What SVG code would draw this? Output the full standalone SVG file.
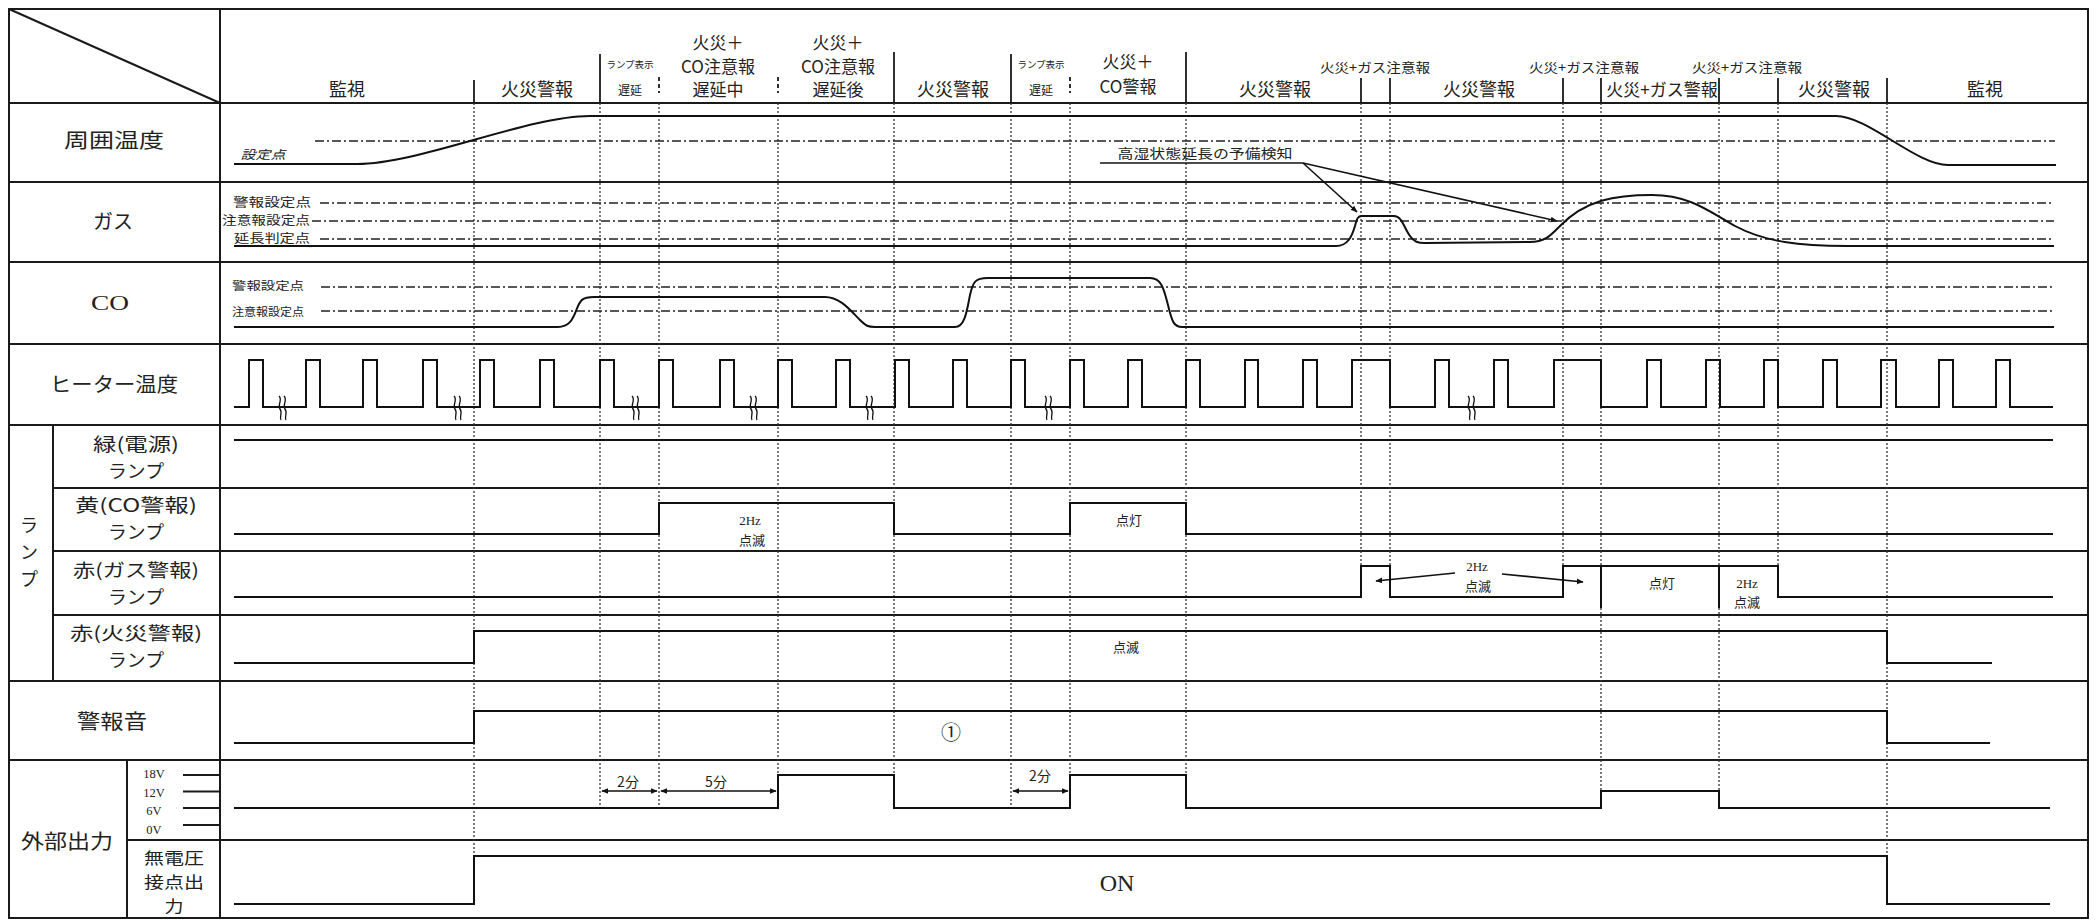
<svg xmlns="http://www.w3.org/2000/svg" width="2098" height="920" viewBox="0 0 2098 920">
<style>
.row{stroke:#1a1a1a;stroke-width:2;fill:none}
.sig{stroke:#111;stroke-width:2;fill:none;stroke-linejoin:miter}
.dd{stroke:#222;stroke-width:1.6;stroke-dasharray:9 3 2 3;fill:none}
.dot{stroke:#333;stroke-width:1.3;stroke-dasharray:2 2;fill:none}
.tk{stroke:#1a1a1a;stroke-width:1.8}
.tkd{stroke:#1a1a1a;stroke-width:1.8;stroke-dasharray:4 3}
.ar{stroke:#111;stroke-width:1.6;fill:none}
.t{font-family:"Noto Sans CJK JP","Noto Sans",sans-serif;fill:#222;text-anchor:middle}
.s{font-family:"Liberation Serif",serif;fill:#222;text-anchor:middle}
.h{font-size:18px}
.l{font-size:20px}
.lp{font-size:18px}
.sm{font-size:12px}
.xs{font-size:13px}
</style>
<defs>
<marker id="ah" viewBox="0 0 10 10" refX="9" refY="5" markerWidth="7" markerHeight="7" orient="auto-start-reverse" markerUnits="userSpaceOnUse">
<path d="M0,1 L10,5 L0,9 z" fill="#111"/>
</marker>
<path id="brk" d="M-4,-11 c4,4 -2,9 1,13 c3,4 -1,8 1,11 M1,-11 c4,4 -2,9 1,13 c3,4 -1,8 1,11" fill="none" stroke="#111" stroke-width="1.3"/>
</defs>
<rect width="2098" height="920" fill="#fff"/>

<g id="grid">
<rect x="9" y="9" width="2079" height="909" class="row"/>
<line x1="9" y1="9" x2="220" y2="103" class="row"/>
<line x1="220" y1="9" x2="220" y2="918" class="row"/>
<line x1="53" y1="425" x2="53" y2="681" class="row"/>
<line x1="127" y1="760" x2="127" y2="918" class="row"/>
<line x1="9" y1="103" x2="2088" y2="103" class="row"/>
<line x1="9" y1="182" x2="2088" y2="182" class="row"/>
<line x1="9" y1="262" x2="2088" y2="262" class="row"/>
<line x1="9" y1="344" x2="2088" y2="344" class="row"/>
<line x1="9" y1="425" x2="2088" y2="425" class="row"/>
<line x1="53" y1="488" x2="2088" y2="488" class="row"/>
<line x1="53" y1="551" x2="2088" y2="551" class="row"/>
<line x1="53" y1="615" x2="2088" y2="615" class="row"/>
<line x1="9" y1="681" x2="2088" y2="681" class="row"/>
<line x1="9" y1="760" x2="2088" y2="760" class="row"/>
<line x1="127" y1="840" x2="2088" y2="840" class="row"/>
<line x1="183" y1="775" x2="219" y2="775" class="tk"/>
<line x1="183" y1="791.5" x2="219" y2="791.5" class="tk"/>
<line x1="183" y1="808" x2="219" y2="808" class="tk"/>
<line x1="183" y1="825" x2="219" y2="825" class="tk"/>
</g>

<g id="header">
<line x1="474" y1="80" x2="474" y2="103" class="tk"/>
<line x1="600" y1="54" x2="600" y2="103" class="tk"/>
<line x1="659" y1="77" x2="659" y2="93" class="tkd"/>
<line x1="778" y1="77" x2="778" y2="93" class="tkd"/>
<line x1="894" y1="52" x2="894" y2="103" class="tk"/>
<line x1="1011" y1="54" x2="1011" y2="103" class="tk"/>
<line x1="1070" y1="77" x2="1070" y2="93" class="tkd"/>
<line x1="1186" y1="52" x2="1186" y2="103" class="tk"/>
<line x1="1361" y1="78" x2="1361" y2="103" class="tk"/>
<line x1="1390" y1="78" x2="1390" y2="103" class="tk"/>
<line x1="1563" y1="78" x2="1563" y2="103" class="tk"/>
<line x1="1601" y1="78" x2="1601" y2="103" class="tk"/>
<line x1="1719" y1="78" x2="1719" y2="103" class="tk"/>
<line x1="1778" y1="78" x2="1778" y2="103" class="tk"/>
<line x1="1887" y1="78" x2="1887" y2="103" class="tk"/>
<text class="t h" x="347" y="96">監視</text>
<text class="t h" x="537" y="96">火災警報</text>
<text class="t" x="630" y="68" font-size="9.5">ランプ表示</text>
<text class="t" x="630" y="95" font-size="12">遅延</text>
<text class="t" x="718" y="49" font-size="17">火災＋</text>
<text class="t" x="718" y="73" font-size="17">CO注意報</text>
<text class="t" x="718" y="96" font-size="17">遅延中</text>
<text class="t" x="838" y="49" font-size="17">火災＋</text>
<text class="t" x="838" y="73" font-size="17">CO注意報</text>
<text class="t" x="838" y="96" font-size="17">遅延後</text>
<text class="t h" x="953" y="96">火災警報</text>
<text class="t" x="1041" y="68" font-size="9.5">ランプ表示</text>
<text class="t" x="1041" y="95" font-size="12">遅延</text>
<text class="t" x="1128" y="68" font-size="17">火災＋</text>
<text class="t" x="1128" y="93" font-size="17">CO警報</text>
<text class="t h" x="1275" y="96">火災警報</text>
<text class="t xs" x="1375" y="72" textLength="110" lengthAdjust="spacingAndGlyphs">火災+ガス注意報</text>
<text class="t h" x="1479" y="96">火災警報</text>
<text class="t xs" x="1584" y="72" textLength="110" lengthAdjust="spacingAndGlyphs">火災+ガス注意報</text>
<text class="t" x="1662" y="96" font-size="17">火災+ガス警報</text>
<text class="t xs" x="1747" y="72" textLength="110" lengthAdjust="spacingAndGlyphs">火災+ガス注意報</text>
<text class="t h" x="1834" y="96">火災警報</text>
<text class="t h" x="1985" y="96">監視</text>
</g>

<g id="labels">
<text class="t l" x="114" y="148" textLength="100" lengthAdjust="spacingAndGlyphs">周囲温度</text>
<text class="t l" x="113" y="229">ガス</text>
<text class="s" x="110" y="310" font-size="21" textLength="38" lengthAdjust="spacingAndGlyphs">CO</text>
<text class="t l" x="114" y="392" textLength="128" lengthAdjust="spacingAndGlyphs">ヒーター温度</text>
<text class="t lp" x="29" y="532">ラ</text>
<text class="t lp" x="29" y="559">ン</text>
<text class="t lp" x="29" y="586">プ</text>
<text class="t lp" x="136" y="451" textLength="86" lengthAdjust="spacingAndGlyphs">緑(電源)</text>
<text class="t lp" x="136" y="478" textLength="56" lengthAdjust="spacingAndGlyphs">ランプ</text>
<text class="t lp" x="136" y="512" textLength="122" lengthAdjust="spacingAndGlyphs">黄(CO警報)</text>
<text class="t lp" x="136" y="539" textLength="56" lengthAdjust="spacingAndGlyphs">ランプ</text>
<text class="t lp" x="136" y="577" textLength="126" lengthAdjust="spacingAndGlyphs">赤(ガス警報)</text>
<text class="t lp" x="136" y="604" textLength="56" lengthAdjust="spacingAndGlyphs">ランプ</text>
<text class="t lp" x="136" y="640" textLength="132" lengthAdjust="spacingAndGlyphs">赤(火災警報)</text>
<text class="t lp" x="136" y="667" textLength="56" lengthAdjust="spacingAndGlyphs">ランプ</text>
<text class="t l" x="112" y="729" textLength="70" lengthAdjust="spacingAndGlyphs">警報音</text>
<text class="t l" x="67" y="849" textLength="92" lengthAdjust="spacingAndGlyphs">外部出力</text>
<text class="s" x="154" y="778" font-size="12.5">18V</text>
<text class="s" x="154" y="797" font-size="12.5">12V</text>
<text class="s" x="154" y="815" font-size="12.5">6V</text>
<text class="s" x="154" y="834" font-size="12.5">0V</text>
<text class="t" x="174" y="864" font-size="16" textLength="60" lengthAdjust="spacingAndGlyphs">無電圧</text>
<text class="t" x="174" y="888" font-size="16" textLength="60" lengthAdjust="spacingAndGlyphs">接点出</text>
<text class="t" x="174" y="912" font-size="16" textLength="19" lengthAdjust="spacingAndGlyphs">力</text>
</g>

<g id="connectors">
<line x1="474" y1="103" x2="474" y2="856" class="dot"/>
<line x1="600" y1="103" x2="600" y2="808" class="dot"/>
<line x1="659" y1="103" x2="659" y2="808" class="dot"/>
<line x1="778" y1="103" x2="778" y2="808" class="dot"/>
<line x1="894" y1="103" x2="894" y2="808" class="dot"/>
<line x1="1011" y1="103" x2="1011" y2="808" class="dot"/>
<line x1="1070" y1="103" x2="1070" y2="808" class="dot"/>
<line x1="1186" y1="103" x2="1186" y2="808" class="dot"/>
<line x1="1361" y1="103" x2="1361" y2="566" class="dot"/>
<line x1="1390" y1="103" x2="1390" y2="566" class="dot"/>
<line x1="1563" y1="103" x2="1563" y2="566" class="dot"/>
<line x1="1601" y1="103" x2="1601" y2="566" class="dot"/>
<line x1="1601" y1="608" x2="1601" y2="791" class="dot"/>
<line x1="1719" y1="103" x2="1719" y2="566" class="dot"/>
<line x1="1719" y1="608" x2="1719" y2="791" class="dot"/>
<line x1="1778" y1="103" x2="1778" y2="566" class="dot"/>
<line x1="1887" y1="103" x2="1887" y2="856" class="dot"/>
<line x1="1303" y1="163" x2="1357" y2="212" class="ar" marker-end="url(#ah)"/>
<line x1="1303" y1="163" x2="1557" y2="221" class="ar" marker-end="url(#ah)"/>
<line x1="1455" y1="573" x2="1376" y2="581" class="ar" marker-end="url(#ah)"/>
<line x1="1502" y1="574" x2="1583" y2="582" class="ar" marker-end="url(#ah)"/>
<line x1="602" y1="791" x2="657" y2="791" class="ar" marker-start="url(#ah)" marker-end="url(#ah)"/>
<line x1="661" y1="791" x2="776" y2="791" class="ar" marker-start="url(#ah)" marker-end="url(#ah)"/>
<line x1="1013" y1="791" x2="1068" y2="791" class="ar" marker-start="url(#ah)" marker-end="url(#ah)"/>
</g>

<g id="temperature">
<line x1="315" y1="141" x2="2055" y2="141" class="dd"/>
<text class="t sm" x="263" y="159" textLength="45" lengthAdjust="spacingAndGlyphs" font-style="italic">設定点</text>
<path class="sig" d="M234,164 L357,164 C420,164 527,116 590,116 L1836,116 C1868,116 1916,165 1948,165 L2056,165"/>
</g>

<g id="gas">
<line x1="320" y1="203" x2="2054" y2="203" class="dd"/>
<line x1="312" y1="221" x2="2054" y2="221" class="dd"/>
<line x1="320" y1="239" x2="2054" y2="239" class="dd"/>
<text class="t sm" x="272" y="207" textLength="78" lengthAdjust="spacingAndGlyphs">警報設定点</text>
<text class="t sm" x="266" y="225" textLength="88" lengthAdjust="spacingAndGlyphs">注意報設定点</text>
<text class="t sm" x="272" y="243" textLength="76" lengthAdjust="spacingAndGlyphs">延長判定点</text>
<path class="sig" d="M234,246 L1336,246 C1348,246 1352,236 1355,226 C1357,218 1358,216 1362,216 L1394,216 C1402,216 1404,228 1410,236 C1414,242 1418,243 1425,243 L1530,242 C1545,242 1550,236 1560,226 C1585,200 1615,195 1652,195 C1690,195 1710,212 1735,226 C1765,242 1800,246 1847,246 L2054,246"/>
<text class="t xs" x="1205" y="158" textLength="175" lengthAdjust="spacingAndGlyphs">高湿状態延長の予備検知</text>
<line x1="1100" y1="163" x2="1303" y2="163" stroke="#111" stroke-width="1.6"/>
</g>

<g id="co">
<line x1="321" y1="287" x2="2054" y2="287" class="dd"/>
<line x1="321" y1="311" x2="2054" y2="311" class="dd"/>
<text class="t" x="268" y="290" font-size="11" textLength="72" lengthAdjust="spacingAndGlyphs">警報設定点</text>
<text class="t" x="268" y="316" font-size="11" textLength="72" lengthAdjust="spacingAndGlyphs">注意報設定点</text>
<path class="sig" d="M234,327 L558,327 C570,327 573,318 576,311 C580,300 582,297 594,297 L825,297 C840,297 850,310 860,320 C866,326 868,327 875,327 L955,327 C965,327 967,310 970,295 C973,282 975,278 988,278 L1150,278 C1162,278 1164,290 1168,305 C1172,322 1174,327 1182,327 L2054,327"/>
</g>

<g id="heater">
<path class="sig" d="M234,407 H249 V360 H263 V407 H306 V360 H320 V407 H363 V360 H377 V407 H423 V360 H437 V407 H480 V360 H494 V407 H540 V360 H554 V407 H600 V360 H614 V407 H659 V360 H673 V407 H720 V360 H734 V407 H778 V360 H792 V407 H836 V360 H850 V407 H895 V360 H909 V407 H953 V360 H967 V407 H1011 V360 H1025 V407 H1070 V360 H1084 V407 H1128 V360 H1142 V407 H1186 V360 H1200 V407 H1245 V360 H1258 V407 H1303 V360 H1317 V407 H1352 V360 H1390 V407 H1435 V360 H1449 V407 H1494 V360 H1508 V407 H1554 V360 H1601 V407 H1647 V360 H1661 V407 H1706 V360 H1720 V407 H1764 V360 H1778 V407 H1823 V360 H1837 V407 H1881 V360 H1896 V407 H1939 V360 H1953 V407 H1996 V360 H2010 V407 H2053"/>
<use href="#brk" x="283" y="407"/>
<use href="#brk" x="458" y="407"/>
<use href="#brk" x="636" y="407"/>
<use href="#brk" x="754" y="407"/>
<use href="#brk" x="870" y="407"/>
<use href="#brk" x="1049" y="407"/>
<use href="#brk" x="1472" y="407"/>
</g>

<g id="lamp-green">
<path class="sig" d="M234,440 H2053"/>
</g>

<g id="lamp-yellow">
<path class="sig" d="M234,534 H659 V503 H894 V534 H1070 V503 H1186 V534 H2053"/>
<text class="s xs" x="750" y="525">2Hz</text>
<text class="t xs" x="752" y="545">点滅</text>
<text class="t xs" x="1129" y="525">点灯</text>
</g>

<g id="lamp-red-gas">
<path class="sig" d="M234,597 H1361 V566 H1390 V597 H1563 V566 H1778 V597 H2053"/>
<line x1="1601" y1="566" x2="1601" y2="608" stroke="#111" stroke-width="2"/>
<line x1="1719" y1="566" x2="1719" y2="608" stroke="#111" stroke-width="2"/>
<text class="s xs" x="1477" y="571">2Hz</text>
<text class="t xs" x="1478" y="591">点滅</text>
<text class="t xs" x="1662" y="588">点灯</text>
<text class="s xs" x="1747" y="588">2Hz</text>
<text class="t xs" x="1747" y="607">点滅</text>
</g>

<g id="lamp-red-fire">
<path class="sig" d="M234,663 H474 V631 H1887 V663 H1992"/>
<text class="t xs" x="1126" y="652">点滅</text>
</g>

<g id="alarm-sound">
<path class="sig" d="M234,743 H474 V711 H1887 V743 H1990"/>
<text class="t" x="951" y="740" font-size="20">①</text>
</g>

<g id="ext-voltage">
<path class="sig" d="M234,808 H778 V775 H894 V808 H1070 V775 H1186 V808 H1601 V791 H1719 V808 H2050"/>
<text class="t" x="628" y="787" font-size="14">2分</text>
<text class="t" x="716" y="787" font-size="14">5分</text>
<text class="t" x="1040" y="781" font-size="14">2分</text>
</g>

<g id="ext-contact">
<path class="sig" d="M234,904 H474 V856 H1887 V904 H2050"/>
<text class="s" x="1117" y="891" font-size="24">ON</text>
</g>
</svg>
